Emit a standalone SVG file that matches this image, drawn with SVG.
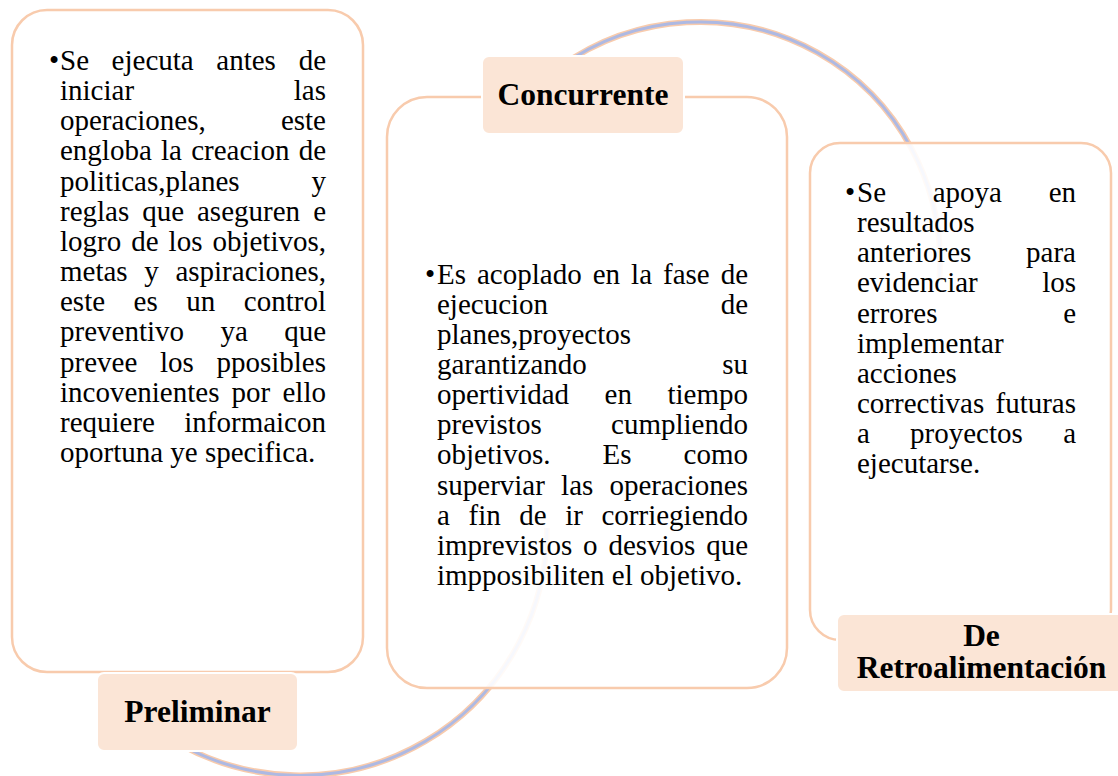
<svg xmlns="http://www.w3.org/2000/svg" width="1118" height="776" viewBox="0 0 1118 776">
<style>
.box{fill:#ffffff;fill-opacity:0.9;stroke:#f8cbad;stroke-width:2.5}
.lbl{fill:#fbe5d6;stroke:#ffffff;stroke-width:2}
.arcO{fill:none;stroke:#f8cbad;stroke-width:6}
.arcI{fill:none;stroke:#adb9e3;stroke-width:3}
text.t{font-family:"Liberation Serif","Times New Roman",serif;font-size:29px;font-weight:normal;fill:#000000}
text.e{text-anchor:end}
text.lt{font-family:"Liberation Serif","Times New Roman",serif;font-size:31.5px;font-weight:bold;fill:#000000;text-anchor:middle}
</style>
<rect width="1118" height="776" fill="#ffffff"/>
<g id="connectors">
  <path class="arcO" d="M 560 67 A 240 240 0 0 1 939.3 280"/>
  <path class="arcI" d="M 560 67 A 240 240 0 0 1 939.3 280"/>
  <path class="arcO" d="M 180 744.3 A 247 247 0 0 0 547 528"/>
  <path class="arcI" d="M 180 744.3 A 247 247 0 0 0 547 528"/>
</g>
<g id="node-preliminar">
  <rect class="box" x="12" y="10" width="351" height="662" rx="35"/>
  <rect class="lbl" x="97" y="673" width="201" height="78" rx="7"/>
  <text class="lt" x="197.5" y="722">Preliminar</text>
  <text class="t" y="70" x="49">•</text>
  <text class="t" y="70"><tspan x="60">Se</tspan><tspan x="111.6">ejecuta</tspan><tspan x="216.3">antes</tspan></text><text class="t e" y="70" x="326">de</text>
  <text class="t" y="100.15" x="60">iniciar</text><text class="t e" y="100.15" x="326">las</text>
  <text class="t" y="130.3" x="60">operaciones,</text><text class="t e" y="130.3" x="326">este</text>
  <text class="t" y="160.45"><tspan x="60">engloba</tspan><tspan x="161">la</tspan><tspan x="191.2">creacion</tspan></text><text class="t e" y="160.45" x="326">de</text>
  <text class="t" y="190.6" x="60">politicas,planes</text><text class="t e" y="190.6" x="326">y</text>
  <text class="t" y="220.75"><tspan x="60">reglas</tspan><tspan x="142.2">que</tspan><tspan x="197">aseguren</tspan></text><text class="t e" y="220.75" x="326">e</text>
  <text class="t" y="250.9"><tspan x="60">logro</tspan><tspan x="131.2">de</tspan><tspan x="168.6">los</tspan></text><text class="t e" y="250.9" x="326">objetivos,</text>
  <text class="t" y="281.05"><tspan x="60">metas</tspan><tspan x="144.3">y</tspan></text><text class="t e" y="281.05" x="326">aspiraciones,</text>
  <text class="t" y="311.2"><tspan x="60">este</tspan><tspan x="133.6">es</tspan><tspan x="186.3">un</tspan></text><text class="t e" y="311.2" x="326">control</text>
  <text class="t" y="341.35"><tspan x="60">preventivo</tspan><tspan x="220.4">ya</tspan></text><text class="t e" y="341.35" x="326">que</text>
  <text class="t" y="371.5"><tspan x="60">prevee</tspan><tspan x="160">los</tspan></text><text class="t e" y="371.5" x="326">pposibles</text>
  <text class="t" y="401.65"><tspan x="60">incovenientes</tspan><tspan x="231.6">por</tspan></text><text class="t e" y="401.65" x="326">ello</text>
  <text class="t" y="431.8" x="60">requiere</text><text class="t e" y="431.8" x="326">informaicon</text>
  <text class="t" y="461.95" x="60">oportuna ye specifica.</text>
</g>
<g id="node-concurrente">
  <rect class="box" x="387" y="97" width="400" height="591" rx="40"/>
  <rect class="lbl" x="482" y="56" width="202" height="78" rx="7"/>
  <text class="lt" x="583" y="105">Concurrente</text>
  <text class="t" y="283.5" x="425">•</text>
  <text class="t" y="283.5"><tspan x="437">Es</tspan><tspan x="477">acoplado</tspan><tspan x="592.7">en</tspan><tspan x="631.1">la</tspan><tspan x="663">fase</tspan></text><text class="t e" y="283.5" x="748">de</text>
  <text class="t" y="313.65" x="437">ejecucion</text><text class="t e" y="313.65" x="748">de</text>
  <text class="t" y="343.8" x="437">planes,proyectos</text>
  <text class="t" y="373.95" x="437">garantizando</text><text class="t e" y="373.95" x="748">su</text>
  <text class="t" y="404.1"><tspan x="437">opertividad</tspan><tspan x="604.6">en</tspan></text><text class="t e" y="404.1" x="748">tiempo</text>
  <text class="t" y="434.25" x="437">previstos</text><text class="t e" y="434.25" x="748">cumpliendo</text>
  <text class="t" y="464.4"><tspan x="437">objetivos.</tspan><tspan x="602.6">Es</tspan></text><text class="t e" y="464.4" x="748">como</text>
  <text class="t" y="494.55"><tspan x="437">superviar</tspan><tspan x="561.1">las</tspan></text><text class="t e" y="494.55" x="748">operaciones</text>
  <text class="t" y="524.7"><tspan x="437">a</tspan><tspan x="468.5">fin</tspan><tspan x="519.2">de</tspan><tspan x="565.2">ir</tspan></text><text class="t e" y="524.7" x="748">corriegiendo</text>
  <text class="t" y="554.85"><tspan x="437">imprevistos</tspan><tspan x="583.1">o</tspan><tspan x="608.4">desvios</tspan></text><text class="t e" y="554.85" x="748">que</text>
  <text class="t" y="585" x="437">impposibiliten el objetivo.</text>
</g>
<g id="node-retroalimentacion">
  <rect class="box" x="810" y="143" width="301" height="497" rx="30"/>
  <rect class="lbl" x="837" y="614" width="290" height="78" rx="7"/>
  <text class="lt" x="981.5" y="646">De</text>
  <text class="lt" x="981.5" y="678">Retroalimentación</text>
  <text class="t" y="202" x="845">•</text>
  <text class="t" y="202"><tspan x="857">Se</tspan><tspan x="932.7">apoya</tspan></text><text class="t e" y="202" x="1076">en</text>
  <text class="t" y="232.15" x="857">resultados</text>
  <text class="t" y="262.3" x="857">anteriores</text><text class="t e" y="262.3" x="1076">para</text>
  <text class="t" y="292.45" x="857">evidenciar</text><text class="t e" y="292.45" x="1076">los</text>
  <text class="t" y="322.6" x="857">errores</text><text class="t e" y="322.6" x="1076">e</text>
  <text class="t" y="352.75" x="857">implementar</text>
  <text class="t" y="382.9" x="857">acciones</text>
  <text class="t" y="413.05" x="857">correctivas</text><text class="t e" y="413.05" x="1076">futuras</text>
  <text class="t" y="443.2"><tspan x="857">a</tspan><tspan x="910.1">proyectos</tspan></text><text class="t e" y="443.2" x="1076">a</text>
  <text class="t" y="473.35" x="857">ejecutarse.</text>
</g>
</svg>
